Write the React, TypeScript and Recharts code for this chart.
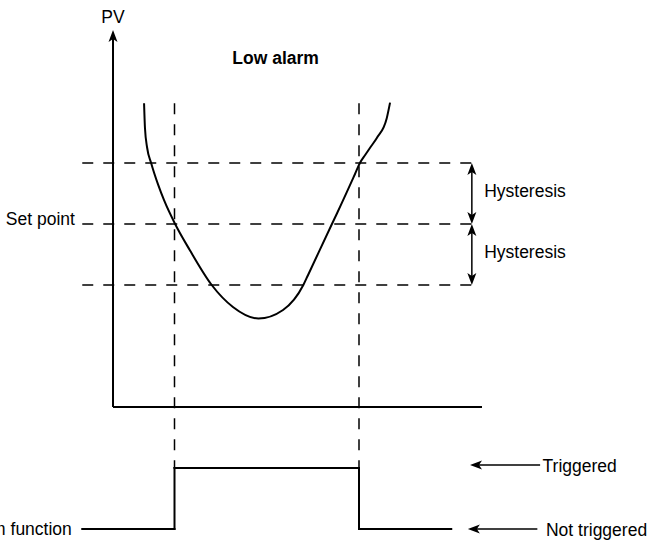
import { Area, ComposedChart, ReferenceDot, ReferenceLine, XAxis, YAxis } from "recharts";

const W = 647;
const H = 541;

// time in trend units (PV axis at 0), PV in hysteresis units around the set point
const curveTime = [1.01, 1.04, 1.11, 1.24, 1.47, 1.66, 2.02, 2.5, 3.21, 3.9, 4.73, 5.53, 6.19, 6.34, 7.12, 7.29, 7.71, 7.87, 8.03, 8.2, 8.36, 8.58, 8.9, 9.01];
const curvePv = [1.98, 1.57, 1.25, 1.0, 0.64, 0.39, 0, -0.43, -1.0, -1.36, -1.55, -1.41, -1.0, -0.84, 0, 0.18, 0.64, 0.82, 1.0, 1.13, 1.25, 1.41, 1.73, 1.99];

// alarm output: level held from each time until the next one
const alarmTime = [-1, 2, 8, 11];
const alarmLevel = [-5, -4, -5, -5];

const thresholds = [1, 0, -1]; // set point + hysteresis, set point, set point - hysteresis
const tripTimes = [2, 8];

const curve = curveTime.map((t, i) => ({ t, pv: curvePv[i] }));

// step-after pieces of the alarm output
const alarmSegments = alarmTime.slice(0, -1).flatMap((t, i) => {
  const next = alarmTime[i + 1];
  const pieces = [[{ x: t, y: alarmLevel[i] }, { x: next, y: alarmLevel[i] }]];
  if (alarmLevel[i + 1] !== alarmLevel[i]) pieces.push([{ x: next, y: alarmLevel[i] }, { x: next, y: alarmLevel[i + 1] }]);
  return pieces;
});

const FONT = "'Liberation Sans', Arial, Helvetica, sans-serif";

const head = (x: number, y: number, ang: number) => {
  const L = 12, hw = 4.5, notch = 3;
  const c = Math.cos(ang), s = Math.sin(ang);
  const pt = (dx: number, dy: number) => `${x + dx * c - dy * s},${y + dx * s + dy * c}`;
  return <path d={`M${pt(0, 0)}L${pt(-L, hw)}L${pt(-L + notch, 0)}L${pt(-L, -hw)}Z`} fill="#000" />;
};

const arrow = (both: boolean, width: number) => (p: any) => {
  const { x1, y1, x2, y2 } = p;
  const ang = Math.atan2(y2 - y1, x2 - x1);
  const c = Math.cos(ang), s = Math.sin(ang);
  const sx = both ? x1 + c * 6 : x1;
  const sy = both ? y1 + s * 6 : y1;
  return (
    <g>
      <line x1={sx} y1={sy} x2={x2 - c * 6} y2={y2 - s * 6} stroke="#000" strokeWidth={width} />
      {head(x2, y2, ang)}
      {both && head(x1, y1, ang + Math.PI)}
    </g>
  );
};

const label = (text: string, anchor: "start" | "middle" | "end", bold = false) => (p: any) => (
  <text x={p.cx} y={p.cy} textAnchor={anchor} fontFamily={FONT} fontSize={17.5} fontWeight={bold ? 700 : 400} fill="#000">
    {text}
  </text>
);

export default function App() {
  return (
    <div style={{ position: "absolute", left: 0, top: 0, width: W, height: H, background: "#fff" }}>
      <ComposedChart width={W} height={H} margin={{ top: 0, right: 0, bottom: 0, left: 0 }}>
        <XAxis type="number" dataKey="t" domain={[-3.675, 17.366]} allowDataOverflow hide />
        <YAxis type="number" domain={[-5.197, 3.672]} allowDataOverflow hide />

        {thresholds.map((v) => (
          <ReferenceLine key={`h${v}`} segment={[{ x: -1, y: v }, { x: 11.95, y: v }]} stroke="#000" strokeWidth={1.5} strokeDasharray="11 10" />
        ))}
        {tripTimes.map((t) => (
          <ReferenceLine key={`v${t}`} segment={[{ x: t, y: 1.98 }, { x: t, y: -4 }]} stroke="#000" strokeWidth={1.5} strokeDasharray="11 10" />
        ))}

        {/* axes */}
        <ReferenceLine segment={[{ x: 0, y: -3 }, { x: 0, y: 3.18 }]} shape={arrow(false, 2)} />
        <ReferenceLine segment={[{ x: 0, y: -3 }, { x: 12, y: -3 }]} stroke="#000" strokeWidth={2} />

        {/* hysteresis bands */}
        <ReferenceLine segment={[{ x: 11.67, y: 1 }, { x: 11.67, y: 0 }]} shape={arrow(true, 1.5)} />
        <ReferenceLine segment={[{ x: 11.67, y: 0 }, { x: 11.67, y: -1 }]} shape={arrow(true, 1.5)} />

        {/* state pointers */}
        <ReferenceLine segment={[{ x: 13.89, y: -3.95 }, { x: 11.61, y: -3.95 }]} shape={arrow(false, 1.5)} />
        <ReferenceLine segment={[{ x: 13.8, y: -5 }, { x: 11.54, y: -5 }]} shape={arrow(false, 1.5)} />

        {/* alarm output */}
        {alarmSegments.map((seg, i) => (
          <ReferenceLine key={`a${i}`} segment={seg} stroke="#000" strokeWidth={2} strokeLinecap="square" />
        ))}

        {/* PV trend, stroke only */}
        <Area data={curve} dataKey="pv" type="monotone" stroke="#000" strokeWidth={2} fill="none" fillOpacity={0} dot={false} activeDot={false} isAnimationActive={false} />

        <ReferenceDot x={0} y={3.3} shape={label("PV", "middle")} />
        <ReferenceDot x={3.88} y={2.63} shape={label("Low alarm", "start", true)} />
        <ReferenceDot x={-1.24} y={-0.02} shape={label("Set point", "end")} />
        <ReferenceDot x={12.07} y={0.44} shape={label("Hysteresis", "start")} />
        <ReferenceDot x={12.07} y={-0.56} shape={label("Hysteresis", "start")} />
        <ReferenceDot x={13.97} y={-4.06} shape={label("Triggered", "start")} />
        <ReferenceDot x={14.08} y={-5.11} shape={label("Not triggered", "start")} />
        <ReferenceDot x={-1.34} y={-5.1} shape={label("Alarm function", "end")} />
      </ComposedChart>
    </div>
  );
}
